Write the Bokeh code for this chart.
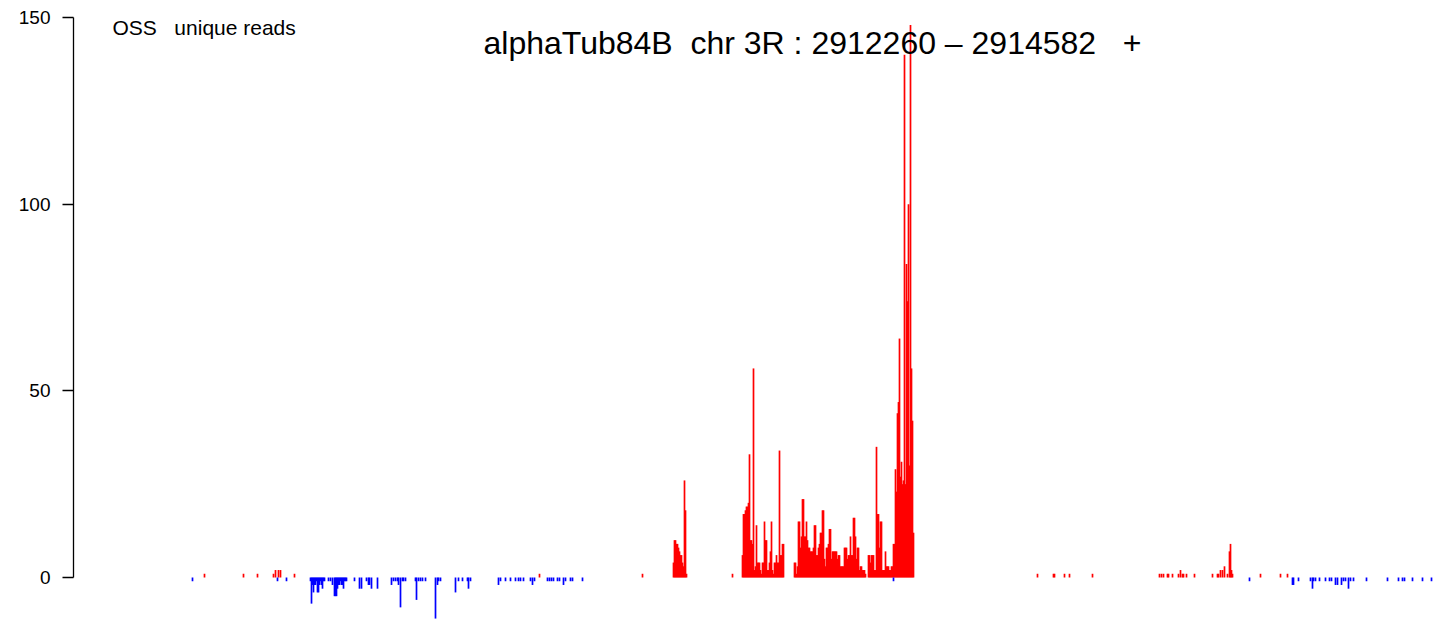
from bokeh.plotting import figure
from bokeh.models import Range1d, FixedTicker, Label, ColumnDataSource
from bokeh.embed import file_html
from bokeh.resources import INLINE

# ---------------- data ----------------
REGION_START = 2911960          # genomic coordinate of plotted window start (chr 3R)
GENE = "alphaTub84B"
CHROM = "3R"
GENE_START = 2912260
GENE_END = 2914582
STRAND = "+"
Y_TICKS = [0, 50, 100, 150]

# sense (+) unique reads: offset from REGION_START (bp), read count
plus_offsets = [
    258, 336, 364, 396, 400, 406, 410, 438, 928, 1134,
    1196, 1198, 1200, 1202, 1204, 1206, 1208, 1210, 1212, 1214, 1216, 1218, 1220, 1222,
    1314,
    1334, 1336, 1338, 1340, 1342, 1344, 1346, 1348, 1350, 1352,
    1354, 1356, 1358, 1360, 1362, 1364, 1366, 1368, 1370, 1372,
    1374, 1376, 1378, 1380, 1382, 1384, 1386, 1388, 1390, 1392,
    1394, 1396, 1398, 1400, 1402, 1404, 1406, 1408, 1410, 1412,
    1414, 1416,
    1438, 1440, 1442, 1444, 1446, 1448, 1450, 1452, 1454, 1456,
    1458, 1460, 1462, 1464, 1466, 1468, 1470, 1472, 1474, 1476,
    1478, 1480, 1482, 1484, 1486, 1488, 1490, 1492, 1494, 1496,
    1498, 1500, 1502, 1504, 1506, 1508, 1510, 1512, 1514, 1516,
    1518, 1520, 1522, 1524, 1526, 1528, 1530, 1532, 1534, 1536,
    1538, 1540, 1542, 1544, 1546, 1548, 1550, 1552, 1554, 1556,
    1558, 1560, 1562, 1564, 1566, 1568, 1570, 1572, 1574, 1576,
    1578, 1580,
    1586, 1588, 1590, 1592, 1594, 1596, 1598, 1600, 1602, 1604,
    1606, 1608, 1610, 1612, 1614, 1616, 1618, 1620, 1622, 1624,
    1626, 1628, 1630,
    1632, 1634, 1636, 1638, 1640, 1642, 1644, 1646, 1648, 1650,
    1652, 1654, 1656, 1658, 1660, 1662, 1664, 1666, 1668, 1670,
    1672, 1674, 1676,
    1924, 1956, 1958, 1978, 1988, 2034, 2168, 2172, 2176, 2184,
    2186, 2194, 2206, 2210, 2214, 2216, 2222, 2238, 2274, 2284,
    2286, 2290, 2294, 2298, 2304, 2308, 2310, 2312, 2314, 2370,
    2410, 2424,
]
plus_counts = [
    1, 1, 1, 1, 2, 2, 2, 1, 1, 1,
    4, 10, 10, 9, 9, 8, 7, 6, 6, 4, 3, 26, 18, 1,
    1,
    6, 17, 17, 18, 19, 19, 20, 33, 10, 10,
    9, 56, 2, 3, 14, 4, 4, 4, 2, 1,
    4, 4, 15, 10, 10, 2, 2, 4, 7, 15,
    2, 1, 4, 4, 6, 4, 4, 34, 6, 6,
    9, 9,
    4, 4, 1, 3, 15, 15, 8, 11, 21, 21,
    11, 11, 15, 10, 8, 8, 7, 7, 7, 8,
    14, 14, 6, 6, 8, 9, 12, 12, 18, 18,
    5, 3, 8, 8, 9, 13, 13, 5, 7, 7,
    7, 7, 7, 5, 6, 6, 3, 3, 3, 3,
    8, 8, 8, 5, 6, 6, 11, 6, 6, 16,
    16, 11, 5, 8, 8, 2, 3, 3, 2, 2,
    2, 1,
    6, 6, 4, 6, 6, 6, 2, 2, 35, 17,
    17, 8, 15, 15, 2, 2, 2, 7, 3, 3,
    3, 2, 2,
    3, 3, 9, 9, 29, 23, 44, 47, 64, 27,
    31, 25, 26, 140, 25, 84, 74, 100, 30, 148,
    56, 42, 12,
    1, 1, 1, 1, 1, 1, 1, 1, 1, 1,
    1, 1, 1, 2, 1, 1, 1, 1, 1, 1,
    1, 2, 2, 3, 1, 7, 9, 2, 1, 1,
    1, 1,
]

# antisense (-) unique reads: offset from REGION_START (bp), read count (negative)
minus_offsets = [
    234, 404, 422,
    470, 472, 474, 476, 478, 480, 482, 484, 486, 488, 490, 492, 494, 496, 498,
    506, 510, 514, 518, 520, 522, 524, 526, 528, 530, 532, 534, 536, 538, 540, 542,
    558, 568, 572, 582, 586, 588, 592, 604, 632, 636, 640, 644, 646, 650, 654, 656, 660,
    680, 682, 686, 690, 694, 700,
    720, 724, 726, 730,
    760, 766, 774, 784, 786, 790,
    846, 850, 860, 870, 880, 886, 890, 896, 910, 914, 918, 944, 948, 952, 956, 964,
    968, 976, 980, 990, 994, 1014,
    1636,
    2348, 2434, 2436, 2446, 2470, 2474, 2476, 2480, 2488, 2500, 2508, 2512, 2520,
    2524, 2532, 2536, 2540, 2546, 2550, 2556, 2582, 2624, 2646, 2654, 2658, 2674,
    2694, 2712,
]
minus_counts = [
    -1, -1, -1,
    -1, -7, -2, -4, -2, -2, -1, -4, -4, -2, -1, -2, -3, -1, -1,
    -1, -1, -2, -5, -5, -5, -3, -2, -2, -1, -2, -2, -3, -1, -1, -1,
    -1, -3, -3, -1, -2, -2, -3, -3, -2, -1, -1, -1, -2, -8, -1, -1, -1,
    -1, -6, -1, -1, -1, -1,
    -11, -2, -1, -1,
    -4, -1, -1, -1, -3, -1,
    -2, -1, -1, -1, -1, -1, -1, -1, -1, -2, -1, -1, -1, -1, -1, -1,
    -1, -2, -1, -1, -1, -1,
    -1,
    -1, -2, -2, -1, -1, -3, -1, -1, -1, -1, -1, -1, -2,
    -2, -2, -1, -1, -3, -1, -1, -1, -1, -1, -1, -1, -1,
    -1, -1,
]

# ---------------- figure ----------------
x_lo = REGION_START - 4
x_hi = REGION_START + 2742

p = figure(width=1446, height=625, output_backend="svg", toolbar_location=None,
           x_range=Range1d(x_lo, x_hi), y_range=Range1d(-12.857, 154.55),
           x_axis_location=None, y_axis_location="left",
           min_border_left=73, min_border_right=0, min_border_top=0, min_border_bottom=0)
p.grid.visible = False
p.outline_line_color = None
p.background_fill_color = "white"
p.border_fill_color = "white"

ax = p.yaxis[0]
ax.ticker = FixedTicker(ticks=Y_TICKS)
ax.bounds = (0, 150)
ax.major_tick_out = 11
ax.major_tick_in = 0
ax.minor_tick_out = 0
ax.minor_tick_in = 0
ax.major_label_standoff = 12
ax.major_label_text_font = "Liberation Sans"
ax.major_label_text_font_size = "19px"
ax.major_label_text_color = "black"
ax.axis_line_color = "black"
ax.major_tick_line_color = "black"
ax.axis_line_width = 1.3
ax.major_tick_line_width = 1.3

plus_src = ColumnDataSource(dict(x=[REGION_START + o for o in plus_offsets], top=plus_counts))
minus_src = ColumnDataSource(dict(x=[REGION_START + o for o in minus_offsets], top=minus_counts))

p.vbar(x="x", top="top", bottom=0, width=3.4, source=plus_src,
       fill_color="#FF0000", line_color=None)
p.vbar(x="x", top="top", bottom=0, width=3.4, source=minus_src,
       fill_color="#0000FF", line_color=None)

p.add_layout(Label(x=REGION_START + 74, y=147.3, text="OSS\u00a0\u00a0 unique reads",
                   text_font="Liberation Sans", text_font_size="21px",
                   text_align="left", text_baseline="middle", text_color="black"))

title = f"{GENE}\u00a0 chr {CHROM} : {GENE_START} \u2013 {GENE_END} \u00a0 {STRAND}"
p.add_layout(Label(x=REGION_START + 1474, y=143.3, text=title,
                   text_font="Liberation Sans", text_font_size="32px",
                   text_align="center", text_baseline="middle", text_color="black"))

open("out.html", "w").write(file_html(p, INLINE))
